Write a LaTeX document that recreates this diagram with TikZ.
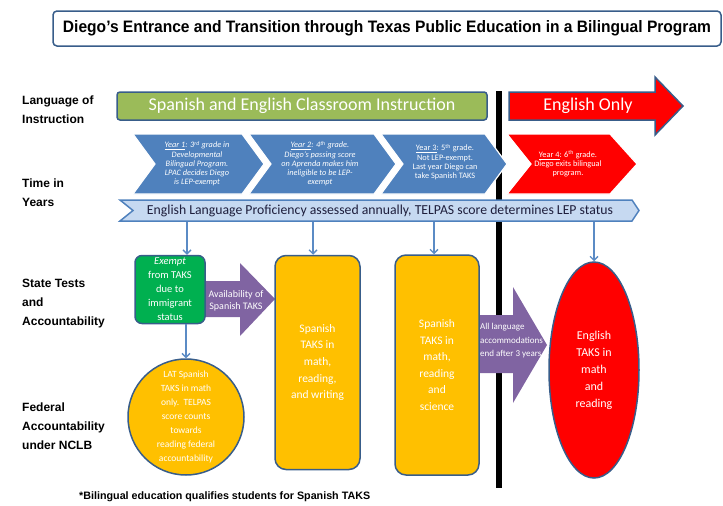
\documentclass[tikz,border=0pt]{standalone}
\usepackage{fontspec}
\setmainfont{Carlito}
\newfontfamily\lab{Liberation Sans}
\usetikzlibrary{arrows.meta,shapes.geometric}
\definecolor{edge}{RGB}{56,93,138}
\definecolor{chblue}{RGB}{79,129,189}
\definecolor{barg}{RGB}{155,187,89}
\definecolor{bannerfill}{RGB}{198,217,241}
\definecolor{bannertext}{RGB}{30,30,60}
\definecolor{tgreen}{RGB}{0,176,80}
\definecolor{tyellow}{RGB}{255,192,0}
\definecolor{tpurple}{RGB}{128,100,162}
\definecolor{connc}{RGB}{91,139,197}
\begin{document}
\begin{tikzpicture}[x=1pt,y=-1pt,
  lbl/.style={anchor=west,align=left,inner sep=0pt,font=\lab\bfseries\fontsize{12}{19}\selectfont},
  chev/.style={fill=#1,draw=white,line width=1.2pt},
  chtext/.style={text=white,align=center,inner sep=0pt,font=\fontsize{8.3}{9.2}\selectfont},
  chtexti/.style={chtext,font=\fontsize{8.3}{9.2}\selectfont\itshape},
  shapebox/.style={draw=edge,line width=1.5pt},
  wtext/.style={text=white,align=center},
  conn/.style={draw=connc,line width=1.3pt,-{Straight Barb[length=4pt,width=8pt]}}
]
\useasboundingbox (0,0) rectangle (723,506);
% title
\node[draw=edge,line width=1.5pt,rounded corners=4pt,fill=white,minimum width=668pt,minimum height=35pt,inner sep=0pt] (title) at (387,28.5)
  {\resizebox{648pt}{12pt}{\lab\bfseries\fontsize{14}{14}\selectfont Diego’s Entrance and Transition through Texas Public Education in a Bilingual Program}};
% left labels
\node[lbl] (l1) at (22,109.5) {Language of\\Instruction};
\node[lbl] (l2) at (22,192.5) {Time in\\Years};
\node[lbl] (l3) at (22,304) {State Tests\\and\\Accountability};
\node[lbl] (l4) at (22,426) {Federal\\Accountability\\under NCLB};
% black divider
\draw[line width=6pt] (499,91) -- (499,488);
% language bar
\node[shapebox,fill=barg,rounded corners=3pt,minimum width=370pt,minimum height=28pt,inner sep=0pt,text=white,font=\fontsize{18}{18}\selectfont] (bar) at (302,106) {Spanish and English Classroom Instruction};
\draw[shapebox,fill=red] (509,92) -- (655,92) -- (655,77) -- (683,106) -- (655,135) -- (655,120) -- (509,120) -- cycle;
\node[text=white,font=\fontsize{18}{18}\selectfont] (eo) at (588,106) {English Only};
% chevrons
\draw[chev=chblue] (133,134) -- (242,134) -- (264,164) -- (242,194) -- (133,194) -- (155,164) -- cycle;
\draw[chev=chblue] (249,134) -- (374,134) -- (396,164) -- (374,194) -- (249,194) -- (271,164) -- cycle;
\draw[chev=chblue] (381,134) -- (485,134) -- (507,164) -- (485,194) -- (381,194) -- (403,164) -- cycle;
\draw[chev=red] (507,134) -- (610,134) -- (637,164) -- (610,194) -- (507,194) -- (531,164) -- cycle;
\node[chtexti] (c1) at (197,163.5) {\underline{Year 1}: 3\textsuperscript{rd} grade in\\Developmental\\Bilingual Program.\\LPAC decides Diego\\is LEP-exempt};
\node[chtexti] (c2) at (320,163.5) {\underline{Year 2}: 4\textsuperscript{th} grade.\\Diego’s passing score\\on Aprenda makes him\\ineligible to be LEP-\\exempt};
\node[chtext] (c3) at (445,162) {\underline{Year 3}: 5\textsuperscript{th} grade.\\Not LEP-exempt.\\Last year Diego can\\take Spanish TAKS};
\node[chtext] (c4) at (568,164) {\underline{Year 4}: 6\textsuperscript{th} grade.\\Diego exits bilingual\\program.};
% ELP banner
\draw[fill=bannerfill,draw=chblue,line width=1.5pt] (120,200) -- (632,200) -- (639,210.5) -- (632,221) -- (120,221) -- (133,210.5) -- cycle;
\node[inner sep=0pt,text=bannertext] (elp) at (380,211) {\resizebox{466pt}{!}{\fontsize{12}{12}\selectfont English Language Proficiency assessed annually, TELPAS score determines LEP status}};
\coordinate (d1) at (187,222);
\coordinate (d2) at (313,222);
\coordinate (d3) at (434,222);
\coordinate (d4) at (594,222);
% purple arrows
\fill[tpurple] (205,281) -- (240,281) -- (240,263) -- (275,299) -- (240,336) -- (240,317) -- (205,317) -- cycle;
\fill[tpurple] (479,315) -- (513,315) -- (513,287) -- (547,345) -- (513,403) -- (513,373) -- (479,373) -- cycle;
% boxes
\node[shapebox,fill=tgreen,rounded corners=7pt,minimum width=70pt,minimum height=68pt,inner sep=0pt,wtext,font=\fontsize{10.5}{14}\selectfont] (gb) at (170,289.5) {\textit{Exempt}\\from TAKS\\due to\\immigrant\\status};
\node[wtext,inner sep=0pt,font=\fontsize{10}{12.5}\selectfont] (pa1) at (236,301) {Availability of\\Spanish TAKS};
\node[shapebox,fill=tyellow,rounded corners=11pt,minimum width=85pt,minimum height=214pt,inner sep=0pt,wtext,font=\fontsize{11.5}{16.7}\selectfont] (yb1) at (317.5,362.5) {Spanish\\TAKS in\\math,\\reading,\\and writing};
\node[shapebox,fill=tyellow,rounded corners=11pt,minimum width=84pt,minimum height=220pt,inner sep=0pt,wtext,font=\fontsize{11.5}{16.6}\selectfont] (yb2) at (437,365) {Spanish\\TAKS in\\math,\\reading\\and\\science};
\node[anchor=west,align=left,inner sep=0pt,text=white,font=\fontsize{9}{13.5}\selectfont] (pa2) at (480,341) {All language\\accommodations\\end after 3 years};
\node[shapebox,ellipse,fill=red,minimum width=90pt,minimum height=216pt,inner sep=0pt,wtext,font=\fontsize{12}{17}\selectfont] (re) at (594,370) {English\\TAKS in\\math\\and\\reading};
\node[shapebox,circle,fill=tyellow,minimum size=116pt,inner sep=0pt,wtext,font=\fontsize{9.5}{14}\selectfont] (cc) at (186,417) {LAT Spanish\\TAKS in math\\only.\ \ TELPAS\\score counts\\towards\\reading federal\\accountability};
% connectors
\draw[conn] (d1) -- (d1 |- gb.north);
\draw[conn] (d2) -- (d2 |- yb1.north);
\draw[conn] (d3) -- (d3 |- yb2.north);
\draw[conn] (d4) -- (re.north);
\draw[conn] (cc.north |- gb.south) -- (cc.north);
% footnote
\node[anchor=west,inner sep=0pt] (fn) at (79,497) {\resizebox{291pt}{!}{\lab\bfseries\fontsize{10}{10}\selectfont *Bilingual education qualifies students for Spanish TAKS}};
\end{tikzpicture}
\end{document}
